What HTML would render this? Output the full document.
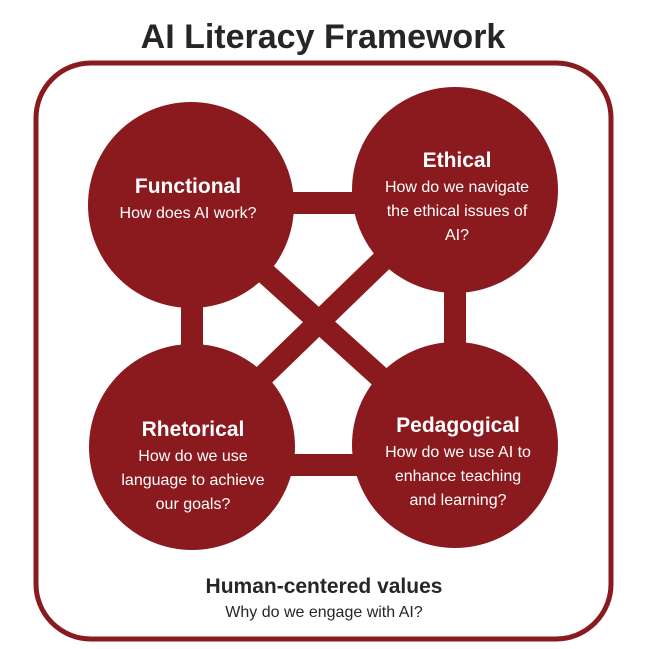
<!DOCTYPE html>
<html><head><meta charset="utf-8"><style>
html,body{margin:0;padding:0;background:#fff;}
svg{display:block;}
text{font-family:"Liberation Sans",sans-serif;}
</style></head><body>
<svg width="649" height="649" viewBox="0 0 649 649" xmlns="http://www.w3.org/2000/svg">
<rect x="0" y="0" width="649" height="649" fill="#fff"/>
<text x="323" y="48" text-anchor="middle" font-size="34" font-weight="bold" fill="#262626">AI Literacy Framework</text>
<rect x="36" y="63" width="575" height="576" rx="55" ry="55" fill="none" stroke="#8b1a1f" stroke-width="5"/>
<g stroke="#8b1a1f" stroke-width="22" fill="none">
<line x1="190" y1="203" x2="455" y2="203"/>
<line x1="192" y1="205" x2="192" y2="445"/>
<line x1="455" y1="190" x2="455" y2="445"/>
<line x1="192" y1="465" x2="455" y2="465"/>
<line x1="190" y1="205" x2="455" y2="445"/>
<line x1="455" y1="190" x2="192" y2="445"/>
</g>
<g fill="#8b1a1f">
<circle cx="191" cy="205" r="103"/>
<circle cx="455" cy="190" r="103"/>
<circle cx="192" cy="447" r="103"/>
<circle cx="455" cy="445" r="103"/>
</g>
<g fill="#fff" text-anchor="middle">
<text x="188" y="193" font-size="21" font-weight="bold">Functional</text>
<text x="188" y="218" font-size="16">How does AI work?</text>
<text x="457" y="167" font-size="21" font-weight="bold">Ethical</text>
<text x="457" y="192" font-size="16">How do we navigate</text>
<text x="457" y="216" font-size="16">the ethical issues of</text>
<text x="457" y="240" font-size="16">AI?</text>
<text x="193" y="436" font-size="21" font-weight="bold">Rhetorical</text>
<text x="193" y="461" font-size="16">How do we use</text>
<text x="193" y="485" font-size="16">language to achieve</text>
<text x="193" y="509" font-size="16">our goals?</text>
<text x="458" y="432" font-size="21" font-weight="bold">Pedagogical</text>
<text x="458" y="457" font-size="16">How do we use AI to</text>
<text x="458" y="481" font-size="16">enhance teaching</text>
<text x="458" y="505" font-size="16">and learning?</text>
</g>
<text x="324" y="593" text-anchor="middle" font-size="21" font-weight="bold" fill="#262626">Human-centered values</text>
<text x="324" y="617" text-anchor="middle" font-size="16" fill="#262626">Why do we engage with AI?</text>
</svg>
</body></html>
